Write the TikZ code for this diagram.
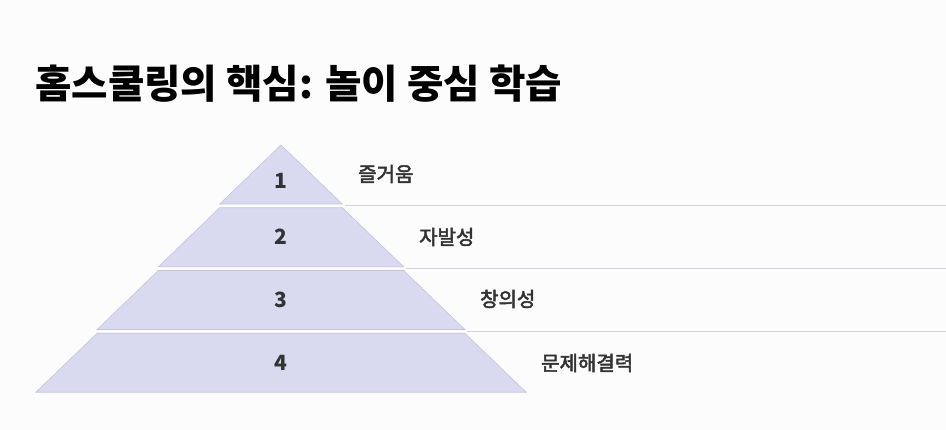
\documentclass[tikz,border=0pt]{standalone}
\usepackage{fontspec}
\newfontfamily\kr{Noto Sans CJK KR}
\newfontfamily\krm[FakeBold=2.5]{Noto Sans CJK KR}
\definecolor{bgc}{HTML}{FCFCFC}
\definecolor{layerfill}{HTML}{D9D9F0}
\definecolor{layeredge}{HTML}{C4C4E2}
\definecolor{rulec}{HTML}{D2D2DE}
\definecolor{txt}{HTML}{333333}
\tikzset{
  layer/.style={fill=layerfill, draw=layeredge, line width=0.6pt, line join=miter},
  numtxt/.style={font=\kr\bfseries\fontsize{21}{24}\selectfont, text=txt, inner sep=0pt},
  labtxt/.style={font=\krm\fontsize{20}{24}\selectfont, text=txt, inner sep=0pt, anchor=west},
  sepline/.style={draw=rulec, line width=1.4pt}
}
\begin{document}
\begin{tikzpicture}[x=1pt,y=-1pt]
\fill[bgc] (0,0) rectangle (946,430);
\useasboundingbox (0,0) rectangle (946,430);
\node[font=\kr\bfseries\fontsize{39.6}{46}\selectfont, text=black, inner sep=0pt, anchor=west] (title) at (35,84) {홈스쿨링의 핵심: 놀이 중심 학습};
% layers
\foreach \i/\ny in {1/181,2/237,3/300,4/363}{
  \pgfmathsetmacro\lyT{145+62.75*(\i-1)}
  \pgfmathsetmacro\lyB{\lyT+59}
  \pgfmathsetmacro\hwT{61.3*(\i-1)}
  \pgfmathsetmacro\hwB{61.3*\i}
  \draw[layer] (281-\hwT,\lyT) -- (281+\hwT,\lyT) -- (281+\hwB,\lyB) -- (281-\hwB,\lyB) -- cycle;
  \node[numtxt] (n\i) at (281,\ny) {\i};
}
% separator lines
\coordinate (s1a) at (345,205.5); \coordinate (s1b) at (946,205.5);
\coordinate (s2a) at (406,268.5); \coordinate (s2b) at (946,268.5);
\coordinate (s3a) at (467,331.5); \coordinate (s3b) at (946,331.5);
\draw[sepline] (s1a) -- (s1b);
\draw[sepline] (s2a) -- (s2b);
\draw[sepline] (s3a) -- (s3b);
% labels
\node[labtxt] (l1) at (358,174) {즐거움};
\node[labtxt] (l2) at (419,237) {자발성};
\node[labtxt] (l3) at (480,299) {창의성};
\node[labtxt] (l4) at (541,363) {문제해결력};
\end{tikzpicture}
\end{document}
